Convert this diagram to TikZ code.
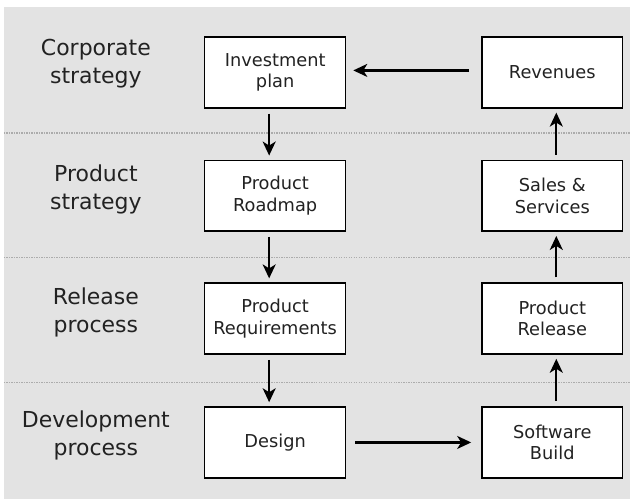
\documentclass[tikz,border=0pt]{standalone}
\usepackage{fontspec}
\setmainfont{DejaVu Sans}
\usetikzlibrary{arrows.meta}

\definecolor{lanegray}{HTML}{E3E3E3}
\definecolor{inkgray}{HTML}{222222}

\tikzset{
  stagebox/.style={draw=black, line width=1.5pt, fill=white, inner sep=0pt,
    minimum width=141pt, minimum height=71pt, align=center,
    text=inkgray, font=\fontsize{17.8}{21.5}\selectfont},
  lanelabel/.style={inner sep=0pt, align=center, text=inkgray,
    font=\fontsize{22}{28}\selectfont},
  flow/.style={line width=2.2pt,
    -{Stealth[length=14pt, width=13pt, inset=4pt]}},
  lanesep/.style={draw=gray!65, line width=1.6pt, dash pattern=on 1.4pt off 1.1pt}
}

\begin{document}
\begin{tikzpicture}[x=1pt, y=-1pt, line cap=butt, line join=miter]

  % ── 背景 ──
  \fill[lanegray] (4,7) rectangle (631,500);

  % ── 泳道分隔线 ──
  \foreach \y in {133, 258, 383}
     \draw[lanesep] (4,\y) -- (631,\y);

  % ── 泳道名 ──
  \node[lanelabel] (corp) at (96,64)  {Corporate\\strategy};
  \node[lanelabel] (prod) at (96,190) {Product\\strategy};
  \node[lanelabel] (rel)  at (96,313) {Release\\process};
  \node[lanelabel] (dev)  at (96,436) {Development\\process};

  % ── 左列 ──
  \node[stagebox] (plan)    at (275.5,72.5) {Investment\\plan};
  \node[stagebox] (roadmap) at (275.5,196)  {Product\\Roadmap};
  \node[stagebox] (reqs)    at (275.5,319)  {Product\\Requirements};
  \node[stagebox] (design)  at (275.5,443)  {Design};

  % ── 右列 ──
  \node[stagebox] (revenue) at (553,72.5) {Revenues};
  \node[stagebox] (sales)   at (553,196)  {Sales \&\\Services};
  \node[stagebox] (release) at (553,319)  {Product\\Release};
  \node[stagebox] (build)   at (553,443)  {Software\\Build};

  % ── 向下流程 ──
  \foreach \a/\b in {plan/roadmap, roadmap/reqs, reqs/design}
     \draw[flow, shorten <=5pt, shorten >=4pt]
        ([xshift=-6pt]\a.south) -- ([xshift=-6pt]\b.north);

  % ── 横向 ──
  \draw[flow, shorten <=9pt, shorten >=10pt] (design.east) -- (build.west);
  \draw[flow, shorten <=12pt, shorten >=7pt]
     ([yshift=2pt]revenue.west) -- ([yshift=2pt]plan.east);

  % ── 向上流程 ──
  \foreach \a/\b in {build/release, release/sales, sales/revenue}
     \draw[flow, shorten <=5pt, shorten >=4pt]
        ([xshift=4pt]\a.north) -- ([xshift=4pt]\b.south);

  \path[use as bounding box] (0,0) rectangle (631,500);
\end{tikzpicture}
\end{document}
